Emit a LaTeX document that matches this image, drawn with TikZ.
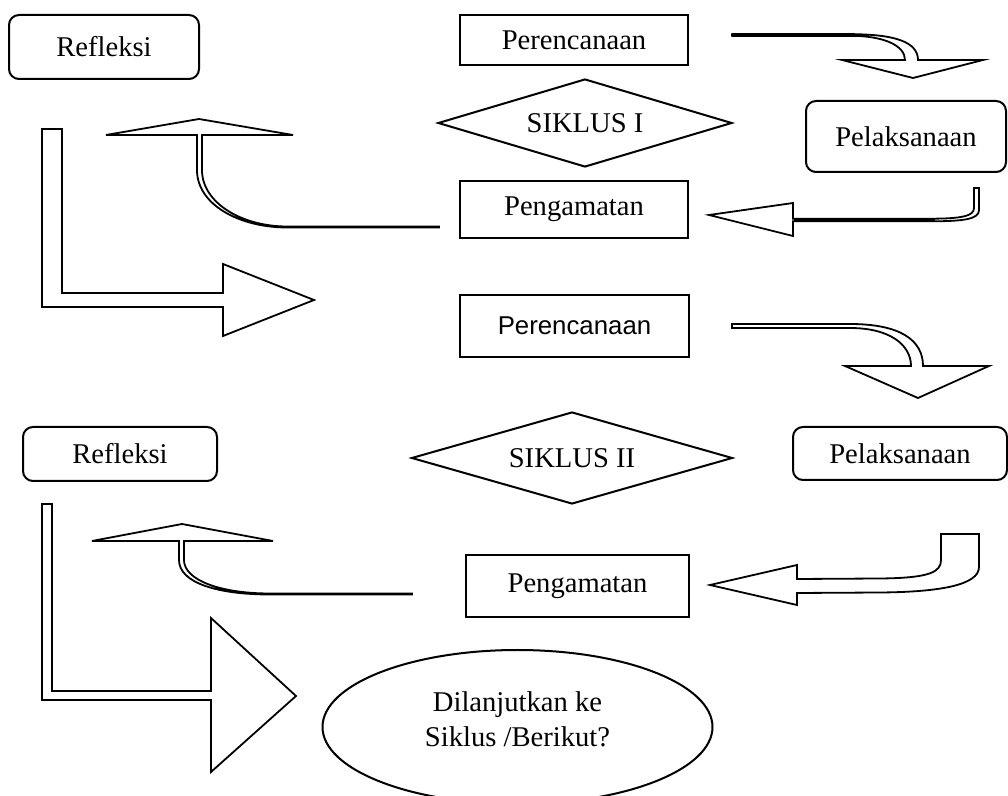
\documentclass[tikz,border=0pt]{standalone}
\usepackage{fontspec}
\setmainfont{Liberation Serif}
\newfontfamily\arialfont{Liberation Sans}
\usetikzlibrary{shapes.geometric}
\newcommand\mainfs{\fontsize{14.3}{17.5}\selectfont}
\newcommand\sansfs{\arialfont\fontsize{12.9}{15}\selectfont}
\tikzset{
  box/.style={draw, line width=1pt, rectangle, inner sep=0pt, font=\mainfs},
  rbox/.style={box, rounded corners=5pt},
  dia/.style={draw, diamond, aspect=3.3, inner sep=0pt, line width=1pt, font=\mainfs},
  oval/.style={draw, ellipse, inner sep=0pt, line width=1pt},
  blockarrow/.style={draw, fill=white, line width=0.9pt, line join=miter},
  shaft/.style={draw, line cap=butt},
}
\begin{document}
\begin{tikzpicture}[x=0.5pt, y=-0.5pt]
\useasboundingbox (0,0) rectangle (1008,796);

% ---------- Cycle I ----------
\node[rbox, minimum width=95pt, minimum height=32pt] (ref1) at (104,47) {Refleksi};
\node[box, minimum width=114pt, minimum height=25pt] (per1) at (574,40) {Perencanaan};
\node[dia, minimum width=147pt, minimum height=44pt] (sik1) at (585,123) {SIKLUS I};
\node[rbox, minimum width=100pt, minimum height=35.5pt] (pel1) at (906,136.5) {Pelaksanaan};
\node[box, minimum width=114pt, minimum height=28.5pt] (pen1) at (574,209.5) {Pengamatan};

% arrow Perencanaan -> Pelaksanaan
\path[blockarrow] (732,34.2) -- (850,34.2) .. controls (895,34.2) and (918,42) .. (918,60)
  -- (983,60) -- (913,78) -- (842,60) -- (905,60)
  .. controls (905,46) and (885,35.8) .. (850,35.8) -- (732,35.8) -- cycle;
\path[shaft, line width=1.7pt] (732,35) -- (855,35);

% arrow Pelaksanaan -> Pengamatan
\path[blockarrow] (974,188) -- (979,188) -- (979,210) .. controls (979,219) and (965,221.3) .. (930,221.3)
  -- (793,221.3) -- (793,236) -- (709,215) -- (793,203) -- (793,218.7) -- (930,218.7)
  .. controls (962,218.7) and (974,216) .. (974,208) -- cycle;
\path[shaft, line width=2.1pt] (793.5,220) -- (935,220);

% arrow Pengamatan -> up
\path[blockarrow] (439,226.5) -- (287,226.5) .. controls (242,226.5) and (202,203) .. (202,170)
  -- (202,135) -- (293,135) -- (199,119) -- (106,135) -- (197,135) -- (197,170)
  .. controls (197,205) and (240,227.5) .. (287,227.5) -- (439,227.5) -- cycle;
\path[shaft, line width=1.4pt] (280,227) -- (439.5,227);

% L arrow to cycle II
\path[blockarrow] (42,129) -- (62,129) -- (62,293) -- (223,293) -- (223,264) -- (314,300)
  -- (223,336) -- (223,307) -- (42,307) -- cycle;

% ---------- Cycle II ----------
\node[box, minimum width=114.5pt, minimum height=31pt, font=\sansfs] (per2) at (574.5,326) {Perencanaan};
\node[rbox, minimum width=97pt, minimum height=27pt] (ref2) at (120,454) {Refleksi};
\node[dia, minimum width=160.5pt, minimum height=46pt] (sik2) at (572,458) {SIKLUS II};
\node[rbox, minimum width=107pt, minimum height=26.5pt] (pel2) at (900,453.5) {Pelaksanaan};
\node[box, minimum width=111.5pt, minimum height=31pt] (pen2) at (577.5,586) {Pengamatan};

% arrow Perencanaan -> Pelaksanaan
\path[blockarrow] (732,324) -- (850,324) .. controls (900,324) and (923,340) .. (923,366)
  -- (989,366) -- (918,398) -- (845,366) -- (911,366)
  .. controls (911,345) and (890,328) .. (850,328) -- (732,328) -- cycle;

% arrow Pelaksanaan -> Pengamatan
\path[blockarrow] (941,534) -- (979,534) -- (979,567) .. controls (979,585) and (940,592) .. (880,592.5)
  -- (797,593) -- (797,605) -- (710,585) -- (797,565) -- (797,579) -- (880,578.5)
  .. controls (930,578) and (941,572) .. (941,560) -- cycle;

% arrow Pengamatan -> up
\path[blockarrow] (412,593.5) -- (270,593.5) .. controls (220,593.5) and (184,580) .. (184,560)
  -- (184,541) -- (273,541) -- (182,524) -- (92,541) -- (179,541) -- (179,560)
  .. controls (179,583) and (218,594.5) .. (270,594.5) -- (412,594.5) -- cycle;
\path[shaft, line width=1.4pt] (262,594) -- (412.5,594);

% L arrow to decision
\path[blockarrow] (42,504) -- (52,504) -- (52,691) -- (211,691) -- (211,618) -- (296,696)
  -- (211,772) -- (211,700) -- (42,700) -- cycle;

\node[oval, minimum width=195pt, minimum height=77pt] (dec) at (517.5,727) {};
\node[font=\mainfs, align=center, inner sep=0pt] (dectext) at (517.5,719) {Dilanjutkan ke\\Siklus /Berikut?};
\end{tikzpicture}
\end{document}
